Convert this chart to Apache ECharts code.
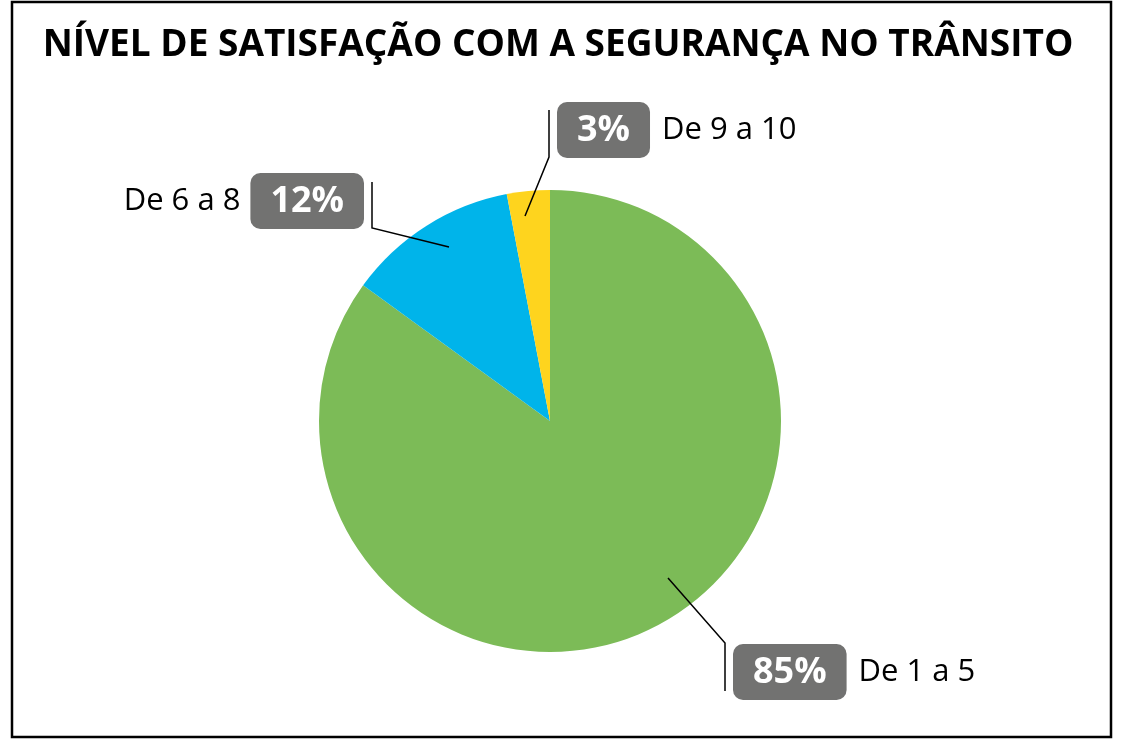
<!DOCTYPE html>
<html>
<head>
<meta charset="utf-8">
<script src="https://cdn.jsdelivr.net/npm/echarts@6/dist/echarts.min.js"></script>
<style>
  html, body { margin: 0; padding: 0; background: #fff; }
  #chart { width: 1122px; height: 739px; }
</style>
</head>
<body>
<div id="chart"></div>
<script>
// dados do gráfico
var faixas = ["De 1 a 5", "De 6 a 8", "De 9 a 10"];
var percentuais = [85, 12, 3];
var cores = ["#7cbb57", "#00b4ea", "#fed41e"];

var titulo = "NÍVEL DE SATISFAÇÃO COM A SEGURANÇA NO TRÂNSITO";

// posição dos rótulos e das linhas de chamada
var centro = [550, 421], raio = 231;
var rotulos = [
  { x: 733, y: 672, align: "left", linha: [[668, 578], [725, 643], [725, 691]] },
  { x: 364, y: 201, align: "right", linha: [[449, 247], [372, 228], [372, 182]] },
  { x: 557, y: 130, align: "left", linha: [[525, 216], [549, 157], [549, 110]] }
];

var chart = echarts.init(document.getElementById("chart"));

var dados = faixas.map(function (nome, i) {
  var fmt = i === 1 ? "{nome|{b}}{caixa|{c}%}" : "{caixa|{c}%}{nome|{b}}";
  return {
    name: nome,
    value: percentuais[i],
    itemStyle: { color: cores[i] },
    label: { formatter: fmt }
  };
});

// linhas de chamada por cima das fatias
var linhas = rotulos.map(function (r) {
  return {
    type: "polyline",
    z: 100,
    silent: true,
    shape: { points: r.linha },
    style: { stroke: "#000", lineWidth: 1.5, fill: null }
  };
});

var option = {
  animation: false,
  title: {
    text: titulo,
    left: 553,
    top: 22,
    textAlign: "center",
    textStyle: {
      fontFamily: "Open Sans",
      fontWeight: "bold",
      fontSize: 37,
      color: "#000"
    }
  },
  graphic: [{
    type: "rect",
    shape: { x: 12, y: 2, width: 1099, height: 735 },
    style: { fill: "none", stroke: "#000", lineWidth: 2.5 },
    silent: true
  }].concat(linhas),
  series: [{
    type: "pie",
    center: centro,
    radius: raio,
    startAngle: 90,
    clockwise: true,
    data: dados,
    label: {
      show: true,
      position: "outside",
      rich: {
        caixa: {
          backgroundColor: "#727271",
          color: "#fff",
          fontFamily: "Open Sans",
          fontWeight: "bold",
          fontSize: 36,
          lineHeight: 42,
          padding: [11, 20, 9, 20],
          borderRadius: 10
        },
        nome: {
          color: "#000",
          fontFamily: "Open Sans",
          fontSize: 31,
          padding: [0, 10, 0, 12]
        }
      }
    },
    labelLine: { show: false },
    labelLayout: function (params) {
      var r = rotulos[params.dataIndex];
      return {
        x: r.x,
        y: r.y,
        align: r.align,
        verticalAlign: "middle"
      };
    }
  }]
};

chart.setOption(option);
</script>
</body>
</html>
